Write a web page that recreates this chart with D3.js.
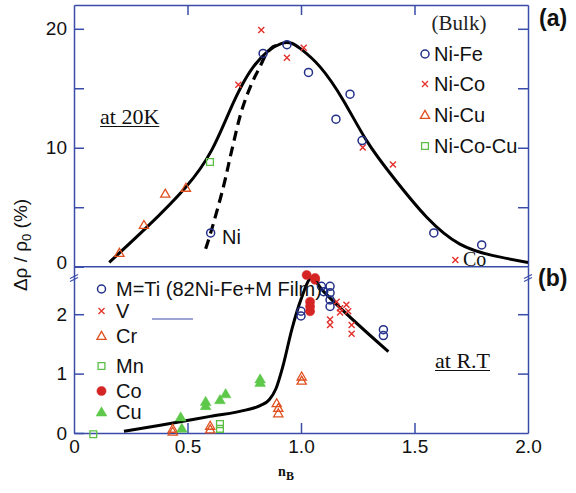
<!DOCTYPE html>
<html>
<head>
<meta charset="utf-8">
<script src="https://cdn.jsdelivr.net/npm/d3@7"></script>
<style>
  html, body { margin: 0; padding: 0; background: #fff; }
  svg { display: block; }
  .sans { font-family: "Liberation Sans", Arial, Helvetica, sans-serif; }
  .serif { font-family: "Liberation Serif", "Times New Roman", serif; }
</style>
</head>
<body>
<svg id="chart" width="576" height="493"></svg>
<script>
// ---- (a) bulk alloys at 20 K : [nB, Δρ/ρ0 %] ----
const bulkNiFe   = [[0.602, 2.84], [0.833, 17.93], [0.938, 18.66], [1.033, 16.33], [1.154, 12.4],
                    [1.216, 14.5], [1.269, 10.6], [1.585, 2.84], [1.796, 1.83]];
const bulkNiCo   = [[0.724, 15.3], [0.825, 19.9], [0.938, 17.56], [1.012, 18.4], [1.272, 10.03],
                    [1.405, 8.6], [1.68, 0.56]];
const bulkNiCu   = [[0.20, 1.16], [0.308, 3.5], [0.402, 6.13], [0.493, 6.63]];
const bulkNiCoCu = [[0.599, 8.8]];

// fitted guide curves for panel (a)
const curveBulk = [[0.155, 0.36], [0.32, 3.3], [0.493, 6.7], [0.606, 9.78], [0.687, 13.15],
                   [0.79, 16.8], [0.915, 18.78], [0.996, 18.35], [1.084, 16.8], [1.186, 14.0],
                   [1.289, 10.6], [1.407, 7.5], [1.554, 4.16], [1.70, 1.9], [1.847, 0.93], [2.0, 0.36]];
const curveNi   = [[0.58, 1.5], [0.602, 2.84], [0.658, 6.7], [0.695, 9.78], [0.739, 13.15], [0.783, 15.4],
                   [0.819, 16.8], [0.849, 17.93], [0.878, 18.5], [0.907, 18.7]];

// ---- (b) 82Ni-Fe + M films at room temperature ----
const filmTi = [[1.0, 2.05], [1.0, 1.97], [1.09, 2.47], [1.1, 2.38], [1.128, 2.47], [1.128, 2.36],
                [1.128, 2.24], [1.128, 2.13], [1.363, 1.74], [1.363, 1.64]];
const filmV  = [[1.157, 2.21], [1.172, 2.1], [1.172, 2.03], [1.2, 2.16], [1.208, 2.05], [1.128, 1.91],
                [1.128, 1.82], [1.223, 1.82], [1.223, 1.67]];
const filmCr = [[0.435, 0.02], [0.435, 0.07], [0.6, 0.06], [0.6, 0.12], [0.893, 0.5], [0.9, 0.42],
                [0.9, 0.33], [1.003, 0.95], [1.003, 0.88]];
const filmMn = [[0.085, -0.02], [0.643, 0.07], [0.643, 0.15]];
const filmCo = [[1.025, 2.66], [1.062, 2.61], [1.062, 2.58], [1.04, 2.21], [1.04, 2.13], [1.04, 2.05]];
const filmCu = [[0.47, 0.27], [0.475, 0.08], [0.58, 0.53], [0.58, 0.46], [0.643, 0.56], [0.668, 0.66],
                [0.82, 0.91], [0.82, 0.85]];
const curveFilm = [[0.22, 0.03], [0.38, 0.13], [0.6, 0.28], [0.76, 0.39], [0.82, 0.46], [0.86, 0.56],
                   [0.89, 0.75], [0.92, 1.12], [0.96, 1.75], [1.0, 2.25], [1.045, 2.6], [1.1, 2.38],
                   [1.385, 1.37]];

// axis ticks
const xTicks = [0, 0.5, 1.0, 1.5, 2.0];
const xTickLabels = ["0", "0.5", "1.0", "1.5", "2.0"];
const yTopTicks = [0, 5, 10, 15, 20];
const yTopLabels = ["0", "", "10", "", "20"];
const yBotTicks = [0, 1, 2];
const yBotLabels = ["0", "1", "2"];

// ---- layout ----
const AXIS = "#3a4caa";
const C_FE = "#23308a", C_CO = "#e4302a", C_CU = "#e0501f", C_CCU = "#5cbf45",
      C_COF = "#d52424", C_CUF = "#5ec84a";

const svg = d3.select("#chart");
const L = 74, R = 528, TOP = 5, MID = 266.7, BOT = 433;

const x = d3.scaleLinear().domain([0, 2]).range([L, R]);
const yA = d3.scaleLinear().domain([0, 22]).range([MID, TOP]);
const yB = d3.scaleLinear().domain([0, 2.8]).range([BOT, MID]);

function styleAxis(g) {
  g.selectAll("path.domain").attr("stroke", AXIS).attr("stroke-width", 1.5);
  g.selectAll(".tick line").attr("stroke", AXIS).attr("stroke-width", 1.5);
  g.selectAll(".tick text").attr("fill", "#111").attr("font-size", 19)
    .attr("font-family", "Liberation Sans, Arial, sans-serif");
}

// panel (a) frame
svg.append("g").attr("transform", `translate(${L},0)`)
  .call(d3.axisLeft(yA).tickValues(yTopTicks).tickSize(-10).tickSizeOuter(0).tickPadding(7)
        .tickFormat((d, i) => yTopLabels[i]))
  .call(styleAxis)
  .call(g => g.selectAll(".tick text").filter(d => d === 0).attr("dy", "0.1em"));
svg.append("g").attr("transform", `translate(${R},0)`)
  .call(d3.axisRight(yA).tickValues(yTopTicks.slice(1)).tickSize(-10).tickSizeOuter(0).tickFormat(""))
  .call(styleAxis);
svg.append("g").attr("transform", `translate(0,${TOP})`)
  .call(d3.axisTop(x).tickValues([0.5, 1, 1.5]).tickSize(-10).tickSizeOuter(0).tickFormat(""))
  .call(styleAxis);
svg.append("line").attr("x1", L).attr("x2", R).attr("y1", MID).attr("y2", MID)
  .attr("stroke", AXIS).attr("stroke-width", 1.5);

// panel (b) frame
svg.append("g").attr("transform", `translate(${L},0)`)
  .call(d3.axisLeft(yB).tickValues(yBotTicks).tickSize(-10).tickSizeOuter(0).tickPadding(7)
        .tickFormat((d, i) => yBotLabels[i]))
  .call(styleAxis);
svg.append("g").attr("transform", `translate(${R},0)`)
  .call(d3.axisRight(yB).tickValues([1, 2]).tickSize(-10).tickSizeOuter(0).tickFormat(""))
  .call(styleAxis);
svg.append("g").attr("transform", `translate(0,${BOT})`)
  .call(d3.axisBottom(x).tickValues(xTicks).tickSize(-10).tickSizeOuter(0).tickPadding(7)
        .tickFormat((d, i) => xTickLabels[i]))
  .call(styleAxis)
  .call(g => g.selectAll(".tick line").filter(d => d === 0 || d === 2).remove());

// axis break marks
[L, R].forEach(px => {
  [-1.5, 1.5].forEach(o => {
    svg.append("line").attr("x1", px - 4).attr("x2", px + 4)
      .attr("y1", 278 + o + 2).attr("y2", 278 + o - 2)
      .attr("stroke", AXIS).attr("stroke-width", 1.2);
  });
});

// ---- markers ----
const shapes = {
  circle: "M4,0A4,4 0 1,1 -4,0A4,4 0 1,1 4,0Z",
  cross: "M-3,-3L3,3M-3,3L3,-3",
  tri: "M0,-4.6L4.6,3.4L-4.6,3.4Z",
  square: "M-3.4,-3.4h6.8v6.8h-6.8Z",
  dot: "M4.6,0A4.6,4.6 0 1,1 -4.6,0A4.6,4.6 0 1,1 4.6,0Z",
  triF: "M0,-5.2L5.4,4L-5.4,4Z"
};
function plot(data, ys, shape, color, filled, sw) {
  svg.append("g").selectAll("path").data(data).join("path")
    .attr("transform", d => `translate(${x(d[0])},${ys(d[1])})`)
    .attr("d", shapes[shape])
    .attr("fill", filled ? color : "none")
    .attr("stroke", color)
    .attr("stroke-width", sw || 1.3);
}

// guide curves
const lineA = d3.line().x(d => x(d[0])).y(d => yA(d[1])).curve(d3.curveNatural);
const lineNi = d3.line().x(d => x(d[0])).y(d => yA(d[1])).curve(d3.curveCatmullRom.alpha(0.5));
const lineB = d3.line().x(d => x(d[0])).y(d => yB(d[1])).curve(d3.curveMonotoneX);
svg.append("path").attr("d", lineA(curveBulk)).attr("fill", "none")
  .attr("stroke", "#000").attr("stroke-width", 3);
svg.append("path").attr("d", lineNi(curveNi)).attr("fill", "none")
  .attr("stroke", "#000").attr("stroke-width", 3.2).attr("stroke-dasharray", "10,6");
svg.append("path").attr("d", lineB(curveFilm)).attr("fill", "none")
  .attr("stroke", "#000").attr("stroke-width", 3);

plot(bulkNiCu, yA, "tri", C_CU, false);
plot(bulkNiCoCu, yA, "square", C_CCU, false);
plot(bulkNiCo, yA, "cross", C_CO, false, 1.4);
plot(bulkNiFe, yA, "circle", C_FE, false, 1.5);

plot(filmMn, yB, "square", C_CCU, false);
plot(filmCr, yB, "tri", C_CU, false);
plot(filmCu, yB, "triF", C_CUF, true, 0.5);
plot(filmV, yB, "cross", C_CO, false, 1.4);
plot(filmTi, yB, "circle", C_FE, false, 1.5);
plot(filmCo, yB, "dot", C_COF, true, 0.5);

// ---- legends ----
const legA = [["circle", C_FE, false, "Ni-Fe"], ["cross", C_CO, false, "Ni-Co"],
              ["tri", C_CU, false, "Ni-Cu"], ["square", C_CCU, false, "Ni-Co-Cu"]];
const legAy = [54, 84, 115, 146];
svg.append("text").attr("class", "serif").attr("x", 459).attr("y", 30)
  .attr("text-anchor", "middle").attr("font-size", 21).attr("fill", "#222").text("(Bulk)");
legA.forEach((e, i) => {
  svg.append("path").attr("transform", `translate(425,${legAy[i]})`).attr("d", shapes[e[0]])
    .attr("fill", "none").attr("stroke", e[1]).attr("stroke-width", e[0] === "circle" ? 1.5 : 1.3);
  svg.append("text").attr("class", "sans").attr("x", 434).attr("y", legAy[i] + 7)
    .attr("font-size", 20).attr("fill", "#111").text(e[3]);
});

const legB = [["circle", C_FE, false, "M=Ti (82Ni-Fe+M Film)", 289], ["cross", C_CO, false, "V", 311],
              ["tri", C_CU, false, "Cr", 336], ["square", C_CCU, false, "Mn", 366],
              ["dot", C_COF, true, "Co", 391], ["triF", C_CUF, true, "Cu", 412]];
legB.forEach(e => {
  svg.append("path").attr("transform", `translate(101.5,${e[4]})`).attr("d", shapes[e[0]])
    .attr("fill", e[2] ? e[1] : "none").attr("stroke", e[1])
    .attr("stroke-width", e[2] ? 0.5 : (e[0] === "circle" ? 1.5 : 1.3));
  svg.append("text").attr("class", "sans").attr("x", 116).attr("y", e[4] + 7)
    .attr("font-size", 20).attr("fill", "#111").text(e[3]);
});
svg.append("line").attr("x1", 152).attr("x2", 193).attr("y1", 319).attr("y2", 319)
  .attr("stroke", AXIS).attr("stroke-width", 1.2);

// ---- annotations ----
svg.append("text").attr("class", "sans").attr("x", 222).attr("y", 244)
  .attr("font-size", 20).attr("fill", "#111").text("Ni");
svg.append("text").attr("class", "serif").attr("x", 463).attr("y", 266)
  .attr("font-size", 20).attr("fill", "#111").text("Co");

function underlined(txt, px, py) {
  const t = svg.append("text").attr("class", "serif").attr("x", px).attr("y", py)
    .attr("font-size", 22).attr("fill", "#111").text(txt);
  const w = t.node().getComputedTextLength();
  svg.append("line").attr("x1", px).attr("x2", px + w).attr("y1", py + 2.5).attr("y2", py + 2.5)
    .attr("stroke", "#111").attr("stroke-width", 1.1);
}
underlined("at 20K", 100, 124);
underlined("at R.T", 435, 368);

svg.append("text").attr("class", "sans").attr("x", 539).attr("y", 26)
  .attr("font-size", 23).attr("font-weight", "bold").attr("fill", "#111").text("(a)");
svg.append("text").attr("class", "sans").attr("x", 538).attr("y", 286)
  .attr("font-size", 23).attr("font-weight", "bold").attr("fill", "#111").text("(b)");

// axis titles
const yt = svg.append("text").attr("class", "sans").attr("transform", "translate(27,245) rotate(-90)")
  .attr("text-anchor", "middle").attr("font-size", 19).attr("fill", "#111");
yt.append("tspan").text("Δρ / ρ");
yt.append("tspan").attr("font-size", 13).attr("dy", 4).text("0");
yt.append("tspan").attr("dy", -4).text(" (%)");

const xt = svg.append("text").attr("class", "serif").attr("x", 286).attr("y", 476)
  .attr("text-anchor", "middle").attr("font-weight", "bold").attr("font-size", 14).attr("fill", "#111");
xt.append("tspan").text("n");
xt.append("tspan").attr("font-size", 12).attr("dy", 4).text("B");
</script>
</body>
</html>
